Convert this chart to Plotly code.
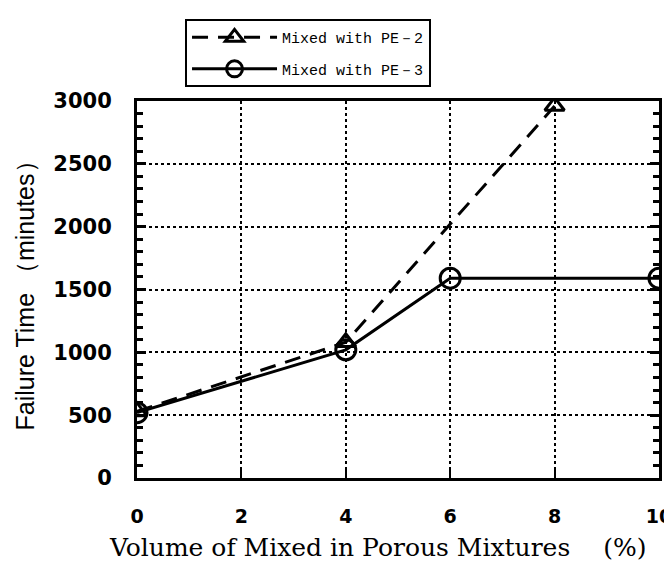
import plotly.graph_objects as go

pe2_x = [0, 4, 8]
pe2_y = [530, 1080, 2960]
pe3_x = [0, 4, 6, 10]
pe3_y = [520, 1020, 1590, 1590]
x_ticks = [0, 2, 4, 6, 8, 10]
y_ticks = [0, 500, 1000, 1500, 2000, 2500, 3000]
x_title = "Volume of Mixed in Porous Mixtures　 (%)"
y_title = "Failure Time （minutes）"

fig = go.Figure()
fig.add_trace(go.Scatter(
    x=pe2_x, y=pe2_y, mode="lines+markers", name="Mixed with PE－2",
    legendgroup="a",
    line=dict(color="black", width=3, dash="16px,10px"),
    marker=dict(symbol="triangle-up-open", size=17, color="black", line=dict(width=3)),
))
fig.add_trace(go.Scatter(
    x=pe3_x, y=pe3_y, mode="lines+markers", name="Mixed with PE－3",
    legendgroup="b",
    line=dict(color="black", width=3),
    marker=dict(symbol="circle-open", size=20, color="black", line=dict(width=3)),
))

yfont = dict(family="DejaVu Sans", size=21, color="black", weight="bold")
xfont = dict(family="DejaVu Sans", size=19, color="black", weight="bold")
fig.update_layout(
    width=664, height=557,
    margin=dict(l=129, r=13, t=92, b=87),
    plot_bgcolor="white", paper_bgcolor="white",
    showlegend=True,
    legend=dict(
        x=0.092, y=1.214, xanchor="left", yanchor="top",
        bordercolor="black", borderwidth=2, bgcolor="white",
        font=dict(family="Liberation Mono", size=15, color="black"),
        itemwidth=85, tracegroupgap=9,
    ),
    xaxis=dict(
        range=[0, 10], tickvals=x_ticks, ticktext=[str(v) for v in x_ticks],
        showline=True, linecolor="black", linewidth=3, mirror=True,
        ticks="inside", ticklen=10, tickwidth=2, tickcolor="black",
        showgrid=True, gridcolor="black", griddash="dot", gridwidth=2,
        zeroline=False, tickfont=xfont, ticklabelstandoff=19,
        ticklabeloverflow="allow",
        automargin=False,
    ),
    yaxis=dict(
        range=[0, 3000], tickvals=y_ticks, ticktext=[str(v) for v in y_ticks],
        showline=True, linecolor="black", linewidth=3, mirror="ticks",
        ticks="inside", ticklen=9, tickwidth=3, tickcolor="black",
        minor=dict(ticks="inside", ticklen=6, tickwidth=3, tickcolor="black", dtick=100, showgrid=False),
        showgrid=True, gridcolor="black", griddash="dot", gridwidth=2,
        zeroline=False, tickfont=yfont, ticklabelstandoff=18,
        automargin=False,
        title=dict(text=y_title,
                   font=dict(family="Liberation Sans", size=25, color="black"),
                   standoff=12),
    ),
    annotations=[dict(
        text=x_title, xref="paper", yref="paper", x=0.46, y=-0.185,
        xanchor="center", yanchor="middle", showarrow=False,
        font=dict(family="DejaVu Serif", size=25, color="black"),
    )],
)

fig.write_html("out.html")
